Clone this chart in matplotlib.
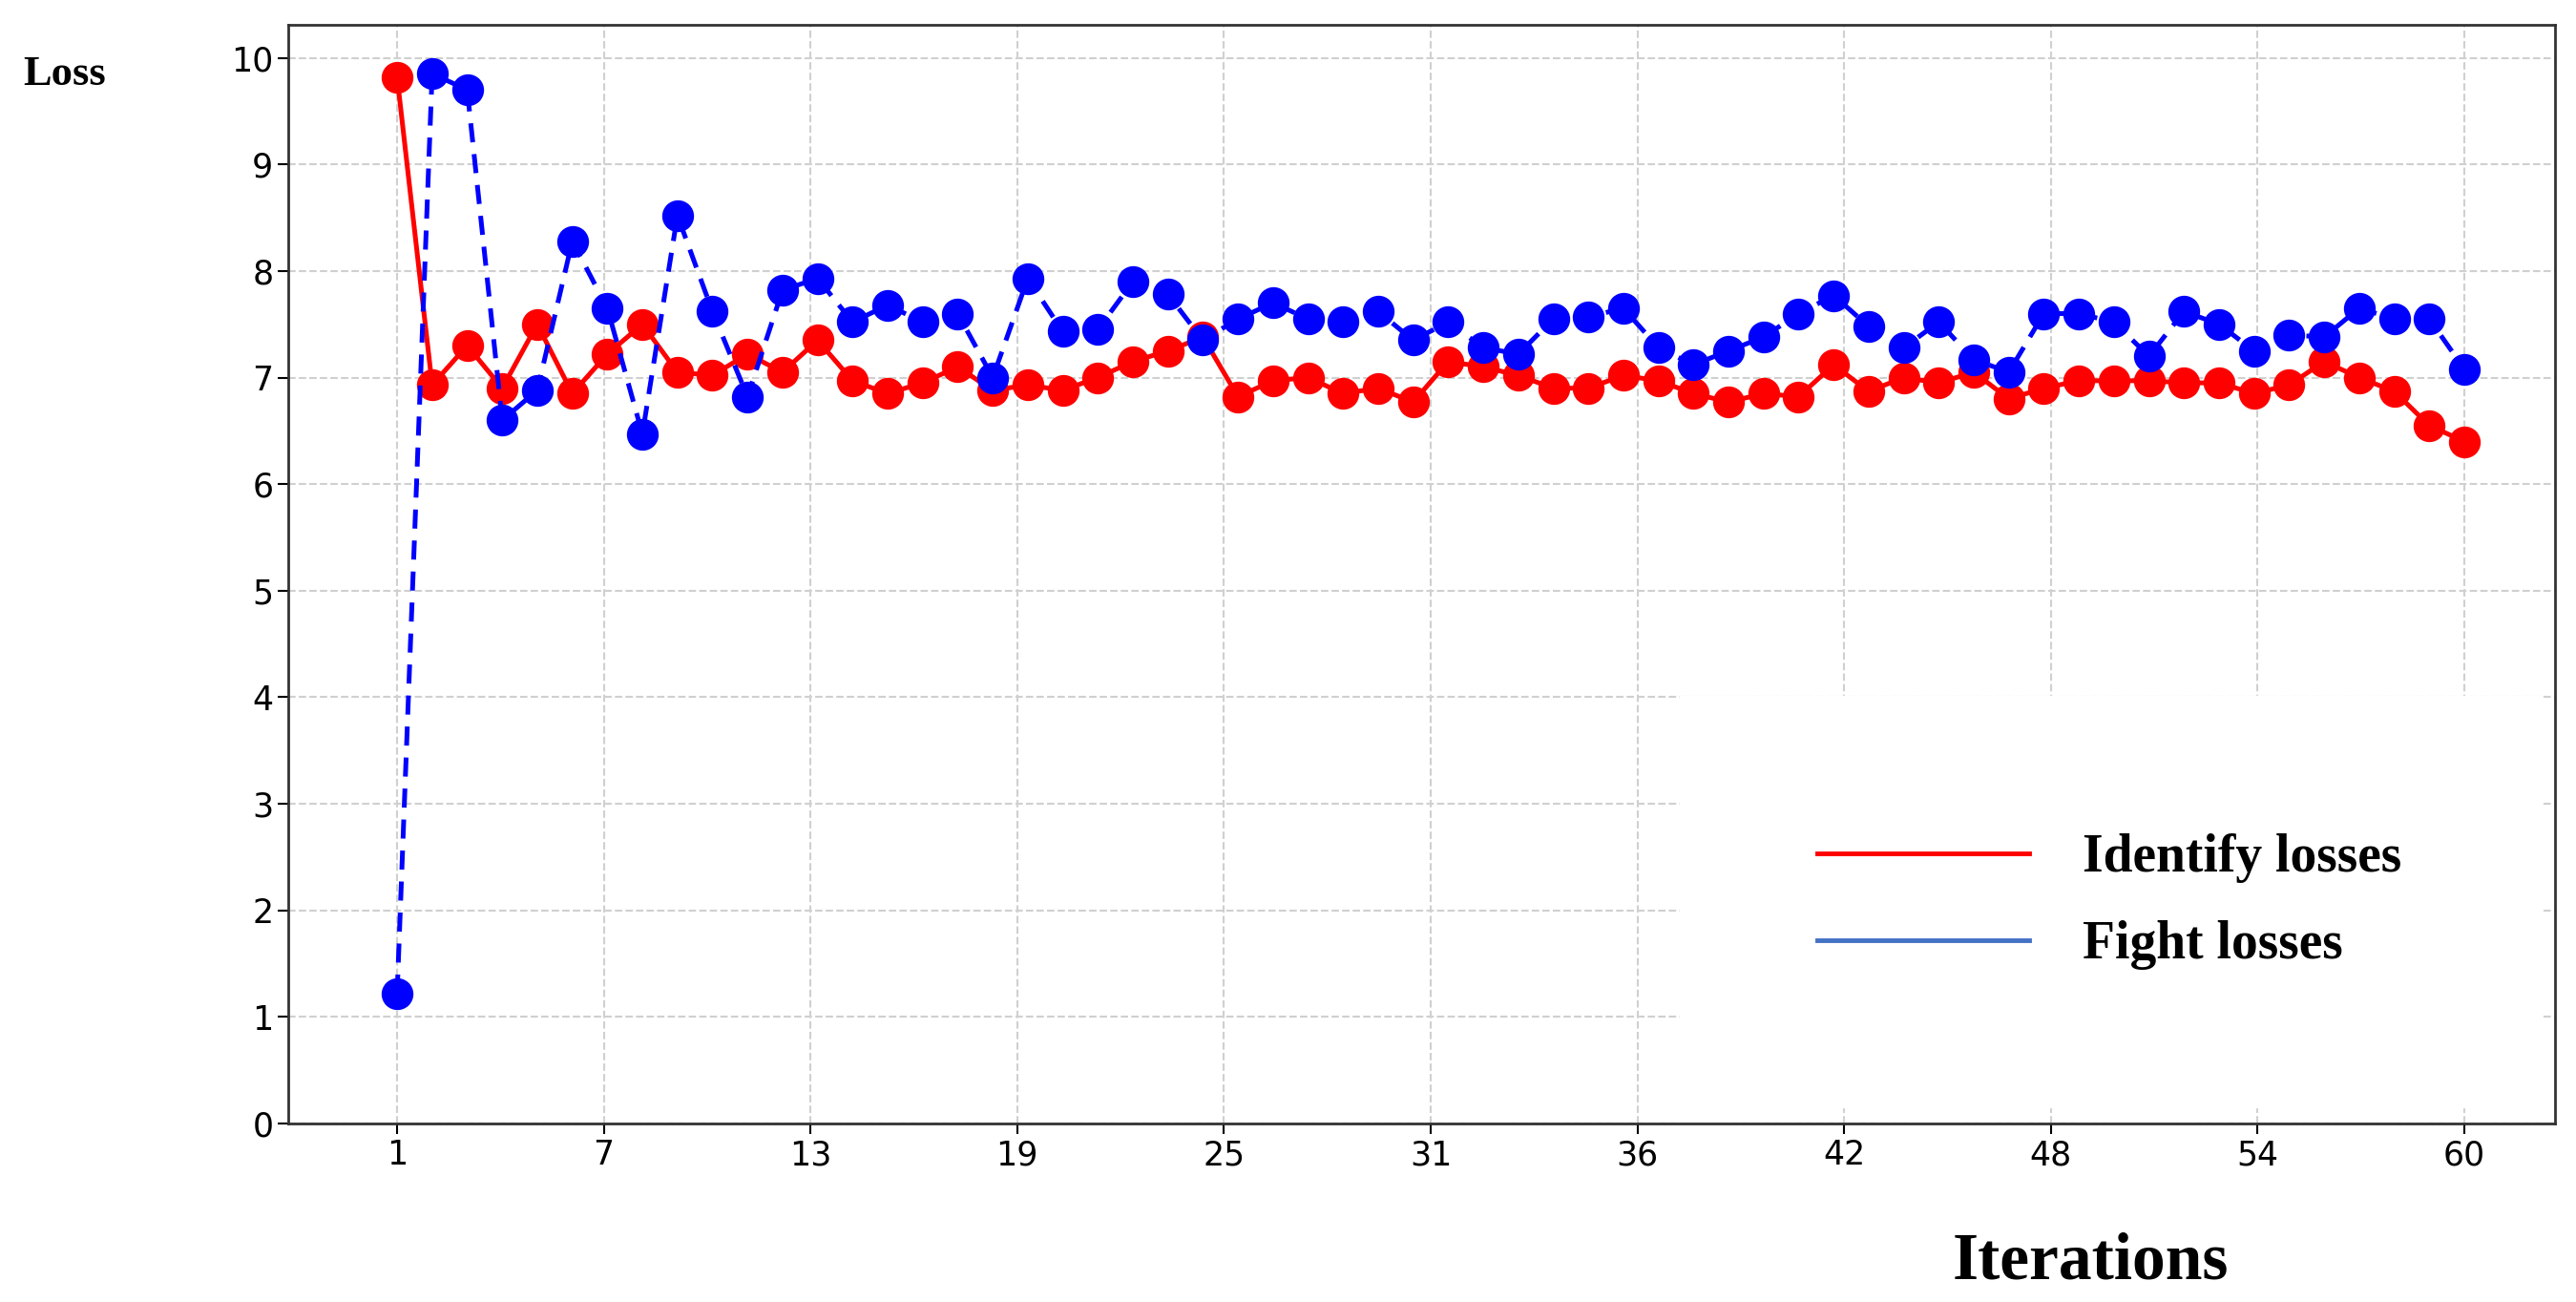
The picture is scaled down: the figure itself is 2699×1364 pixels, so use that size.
import numpy as np
import matplotlib.pyplot as plt
from matplotlib.lines import Line2D

# Data
iterations = np.arange(1, 61)
identify_losses = [9.82, 6.93, 7.3, 6.9, 7.5, 6.85, 7.22, 7.5, 7.05, 7.02,
                   7.22, 7.05, 7.35, 6.97, 6.85, 6.95, 7.1, 6.88, 6.93, 6.88,
                   7.0, 7.15, 7.25, 7.38, 6.82, 6.97, 7.0, 6.85, 6.9, 6.77,
                   7.15, 7.1, 7.02, 6.9, 6.9, 7.02, 6.97, 6.85, 6.77, 6.85,
                   6.82, 7.12, 6.87, 7.0, 6.95, 7.05, 6.8, 6.9, 6.97, 6.97,
                   6.97, 6.95, 6.95, 6.85, 6.93, 7.15, 7.0, 6.87, 6.55, 6.4]
fight_losses = [1.22, 9.85, 9.7, 6.6, 6.88, 8.28, 7.65, 6.47, 8.52, 7.62,
                6.82, 7.82, 7.93, 7.52, 7.68, 7.52, 7.6, 7.0, 7.93, 7.43,
                7.45, 7.9, 7.78, 7.35, 7.55, 7.7, 7.55, 7.52, 7.62, 7.35,
                7.52, 7.28, 7.22, 7.55, 7.57, 7.65, 7.28, 7.12, 7.25, 7.38,
                7.6, 7.77, 7.48, 7.28, 7.52, 7.17, 7.05, 7.6, 7.6, 7.52,
                7.2, 7.62, 7.5, 7.25, 7.4, 7.38, 7.65, 7.55, 7.55, 7.08]
tick_labels = ["1", "7", "13", "19", "25", "31", "36", "42", "48", "54", "60"]

fig = plt.figure(figsize=(26.99, 13.64), dpi=100)
ax = fig.add_axes([0.112, 0.137, 0.880, 0.844])

ax.plot(iterations, identify_losses, color="red", lw=3.6, marker="o", ms=23)
ax.plot(iterations, fight_losses, color="blue", lw=3.6, ls="--", dashes=(4, 2.5),
        marker="o", ms=23)

ax.set_xlim(-2.1, 62.6)
ax.set_ylim(0, 10.31)
ax.set_xticks(np.linspace(1, 60, 11))
ax.set_xticklabels(tick_labels)
ax.set_yticks(range(0, 11))
ax.tick_params(labelsize=25, length=8, width=1.5)
ax.grid(True, ls="--", color="#d0d0d0", lw=1.5)
for s in ax.spines.values():
    s.set_color("#333333")
    s.set_linewidth(2)

serif = "Liberation Serif"
fig.text(0.009, 0.935, "Loss", fontsize=32, fontweight="bold", family=serif)
fig.text(0.758, 0.018, "Iterations", fontsize=50, fontweight="bold", family=serif)

handles = [Line2D([], [], color="red", lw=3.5),
           Line2D([], [], color="#4472C4", lw=3.5)]
leg = ax.legend(handles, ["Identify losses", "Fight losses"], loc="lower right",
                bbox_to_anchor=(1.0, 0.0), prop={"family": serif, "weight": "bold", "size": 40},
                frameon=True, fancybox=False, edgecolor="white", facecolor="white",
                framealpha=1, handlelength=4.0, handletextpad=1.0, labelspacing=0.7,
                borderpad=2.6, borderaxespad=0.3)

fig.savefig("out.png", dpi=100)
